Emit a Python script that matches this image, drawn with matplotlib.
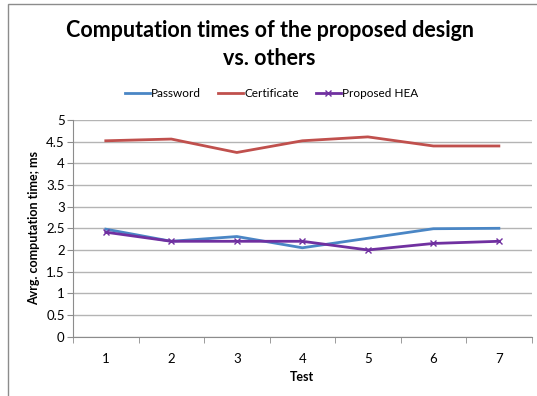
import numpy as np
import matplotlib
matplotlib.use("Agg")
import matplotlib.pyplot as plt
from matplotlib.patches import Rectangle

plt.rcParams['font.family'] = ['Lato', 'DejaVu Sans']

#data
tests = [1, 2, 3, 4, 5, 6, 7]
password = [2.48, 2.20, 2.31, 2.05, 2.27, 2.49, 2.50]
certificate = [4.52, 4.56, 4.25, 4.52, 4.61, 4.40, 4.40]
proposed_hea = [2.41, 2.20, 2.20, 2.20, 2.00, 2.15, 2.20]
y_ticks = [0, 0.5, 1, 1.5, 2, 2.5, 3, 3.5, 4, 4.5, 5]
y_tick_labels = ["0", "0.5", "1", "1.5", "2", "2.5", "3", "3.5", "4", "4.5", "5"]

fig = plt.figure(figsize=(5.37, 3.96), dpi=100)
ax = fig.add_axes([0.136, 0.150, 0.854, 0.547])

# outer chart border (only left and top visible in crop)
fig.add_artist(Rectangle((8 / 537, -0.1), 1.2, (396 - 4) / 396 + 0.1,
                         transform=fig.transFigure, fill=False,
                         edgecolor="#8c8c8c", lw=1.0))

ax.plot(tests, password, color="#4a86c5", lw=2.0, label="Password")
ax.plot(tests, certificate, color="#c0504d", lw=2.0, label="Certificate")
ax.plot(tests, proposed_hea, color="#7030a0", lw=2.0, marker="x",
        markersize=5, markeredgewidth=1.0, label="Proposed HEA")

ax.set_xlim(0.5, 7.5)
ax.set_ylim(0, 5)
ax.set_yticks(y_ticks)
ax.set_yticklabels(y_tick_labels)
ax.set_xticks(tests)
ax.set_xticks(np.arange(0.5, 8, 1), minor=True)
ax.tick_params(axis="x", which="major", length=0, pad=12, labelsize=9.5)
ax.tick_params(axis="x", which="minor", length=4, color="#8c8c8c", direction="out")
ax.tick_params(axis="y", length=4, color="#8c8c8c", labelsize=9.5, pad=2)

ax.grid(axis="y", color="#b4b4b4", lw=1.0)
ax.set_axisbelow(True)
for side in ["top", "right"]:
    ax.spines[side].set_visible(False)
for side in ["left", "bottom"]:
    ax.spines[side].set_color("#8c8c8c")

ax.set_xlabel("Test", fontsize=9, fontweight="bold", labelpad=4)
ax.set_ylabel("Avrg. computation time; ms", fontsize=9, fontweight="bold", labelpad=4)

fig.text(0.502, 0.922, "Computation times of the proposed design", ha="center",
         va="center", fontsize=15.5, fontweight="bold")
fig.text(0.502, 0.852, "vs. others", ha="center", va="center",
         fontsize=15.5, fontweight="bold")

fig.legend(loc="center", bbox_to_anchor=(0.506, 0.763), ncol=3, frameon=False,
           fontsize=8.5, handlelength=2.1, handletextpad=0.1, columnspacing=1.45)

fig.savefig("out.png", dpi=100)
